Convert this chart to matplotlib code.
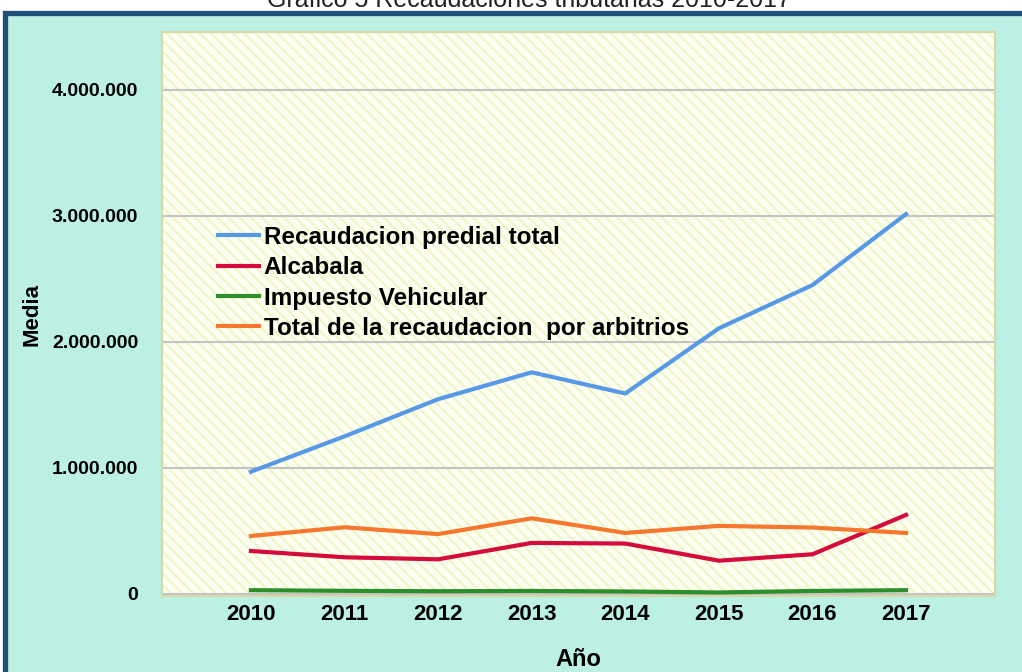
import numpy as np
import matplotlib
matplotlib.use("Agg")
import matplotlib.pyplot as plt
from matplotlib.patches import Rectangle
from matplotlib.ticker import FuncFormatter

plt.rcParams['font.family'] = ['Liberation Sans', 'DejaVu Sans']
plt.rcParams['hatch.linewidth'] = 1.6

# Data (media por año)
years = [2010, 2011, 2012, 2013, 2014, 2015, 2016, 2017]
predial = [970000, 1250000, 1545000, 1758000, 1590000, 2107000, 2450000, 3013000]
alcabala = [341000, 291000, 275000, 405000, 400000, 264000, 315000, 627000]
vehicular = [30000, 25000, 22000, 24000, 20000, 12000, 24000, 30000]
arbitrios = [460000, 529000, 475000, 600000, 484000, 540000, 527000, 484000]

series = [
    ("Recaudacion predial total", predial, "#5799e6"),
    ("Alcabala", alcabala, "#d40b3c"),
    ("Impuesto Vehicular", vehicular, "#2b8f2b"),
    ("Total de la recaudacion  por arbitrios", arbitrios, "#f7772f"),
]
yticks = [0, 1000000, 2000000, 3000000, 4000000]

fig = plt.figure(figsize=(10.22, 6.72), dpi=100, facecolor="white")

# Mint panel with dark blue frame (cut at right/bottom like the screenshot)
fig.patches.append(Rectangle((5 / 1022, -0.1), 1.2, (672 - 12.5) / 672 + 0.1,
                             transform=fig.transFigure, facecolor="#bcf0e2",
                             edgecolor="#1f4e79", linewidth=3.8, zorder=-10))

# Title, partly cropped by the top edge as in the screenshot
fig.text(0.518, 0.989, "Gráfico 5 Recaudaciones tributarias 2010-2017",
         ha="center", va="baseline", fontsize=18, color="#222222")

ax = fig.add_axes([162 / 1022, 76 / 672, 833 / 1022, 564 / 672])
ax.set_facecolor("none")

# Hatched pale yellow plot background
ax.add_patch(Rectangle((0, 0), 1, 1, transform=ax.transAxes, facecolor="#fdfff2",
                       edgecolor="#eff6c6", linewidth=0, hatch="\\\\\\", zorder=0))

for name, vals, color in series:
    ax.plot(years, vals, color=color, linewidth=3.0, label=name, zorder=3)

ax.set_xlim(2009.05, 2017.95)
ax.set_ylim(-16000, 4457000)
ax.set_xticks(years)
ax.set_yticks(yticks)
ax.yaxis.set_major_formatter(FuncFormatter(lambda v, p: f"{int(v):,}".replace(",", ".")))
ax.grid(axis="y", color="#c4c4c4", linewidth=1.5, zorder=1)
ax.set_axisbelow(True)
ax.tick_params(length=0)
ax.tick_params(axis="y", pad=17, labelsize=14)
ax.tick_params(axis="x", pad=6, labelsize=16)
for lab in ax.get_xticklabels() + ax.get_yticklabels():
    lab.set_fontweight("bold")
for sp in ax.spines.values():
    sp.set_color("#d6d8a8")
    sp.set_linewidth(1.5)

ax.set_xlabel("Año", fontsize=17, fontweight="bold")
ax.xaxis.set_label_coords(0.5, -0.113)
ax.xaxis.label.set_va("center")
ax.set_ylabel("Media", fontsize=16, fontweight="bold")
ax.yaxis.set_label_coords(-0.156, 0.5)
ax.yaxis.label.set_va("center")

ax.legend(loc="upper left", bbox_to_anchor=((218 - 162) / 833, (596 - 226) / 564),
          frameon=False, handlelength=1.7, handletextpad=0.18,
          labelspacing=0.3, borderpad=0, borderaxespad=0,
          prop={"weight": "bold", "size": 17.5})

fig.savefig("out.png", dpi=100)
